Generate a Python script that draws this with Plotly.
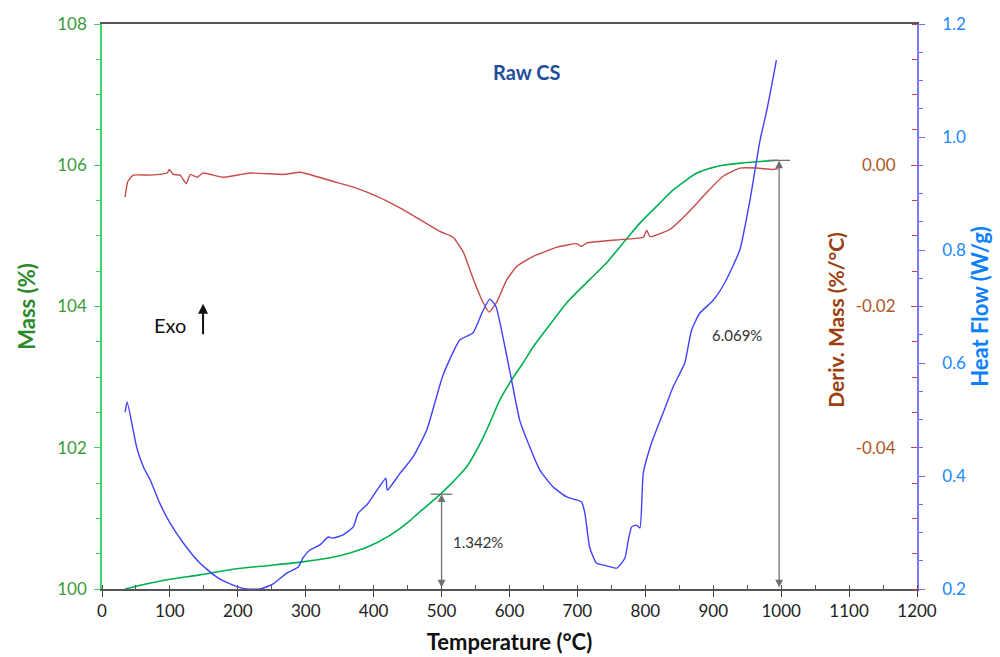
import plotly.graph_objects as go

# ---------------- data ----------------
temp_mass = [34, 60, 96, 144, 193, 243, 292, 340, 365, 390, 424, 450, 463, 475, 498, 512,
             525, 537, 559, 570, 586, 603, 620, 635, 660, 684, 700, 718, 743, 770, 792,
             820, 841, 876, 900, 914, 940, 964, 995]
mass = [100.0, 100.06, 100.13, 100.2, 100.28, 100.33, 100.38, 100.45, 100.51, 100.59, 100.76,
        100.94, 101.05, 101.15, 101.34, 101.47, 101.6, 101.73, 102.1, 102.33, 102.68, 102.96,
        103.2, 103.43, 103.75, 104.05, 104.21, 104.38, 104.62, 104.93, 105.18, 105.45, 105.65,
        105.89, 105.97, 106.0, 106.03, 106.05, 106.07]

temp_deriv = [34, 38, 46, 71, 96, 99, 105, 115, 124, 130, 140, 149, 178, 218, 267, 292, 316,
              341, 370, 405, 434, 468, 498, 517, 532, 547, 561, 570, 581, 596, 611, 635, 670,
              699, 706, 714, 767, 797, 802, 807, 836, 861, 891, 914, 939, 964, 988, 995]
deriv = [-0.0045, -0.0023, -0.0014, -0.0014, -0.0011, -0.0006, -0.0013, -0.0014, -0.0026,
         -0.0013, -0.0017, -0.0011, -0.0017, -0.0011, -0.0013, -0.0010, -0.0016, -0.0023,
         -0.0031, -0.0044, -0.0058, -0.0077, -0.0094, -0.0102, -0.0123, -0.0162, -0.0194,
         -0.0208, -0.0194, -0.0162, -0.0143, -0.0129, -0.0116, -0.0111, -0.0115, -0.0110,
         -0.0105, -0.0102, -0.0092, -0.0101, -0.0091, -0.0069, -0.0038, -0.0016, -0.0004,
         -0.0004, -0.0006, -0.0005]

temp_hf = [34, 37, 51, 61, 71, 85, 100, 120, 144, 169, 193, 213, 233, 252, 272, 289, 296, 306,
           321, 333, 340, 355, 370, 377, 390, 405, 418, 420, 439, 458, 478, 502, 527, 546, 560,
           571, 580, 588, 603, 615, 630, 645, 664, 684, 706, 711, 718, 728, 743, 758, 770, 775,
           780, 787, 792, 797, 809, 826, 841, 858, 868, 880, 900, 917, 939, 954, 969, 979, 993]
heat_flow = [0.513, 0.531, 0.451, 0.416, 0.393, 0.352, 0.317, 0.281, 0.246, 0.221, 0.207, 0.200,
             0.200, 0.209, 0.228, 0.239, 0.255, 0.269, 0.278, 0.292, 0.290, 0.296, 0.310, 0.334,
             0.349, 0.375, 0.396, 0.375, 0.405, 0.434, 0.481, 0.578, 0.641, 0.653, 0.690, 0.713,
             0.700, 0.660, 0.570, 0.499, 0.451, 0.410, 0.381, 0.363, 0.354, 0.334, 0.274, 0.246,
             0.241, 0.237, 0.255, 0.287, 0.310, 0.313, 0.308, 0.405, 0.458, 0.511, 0.558, 0.600,
             0.658, 0.688, 0.711, 0.742, 0.800, 0.888, 0.995, 1.048, 1.136]

x_ticks = [0, 100, 200, 300, 400, 500, 600, 700, 800, 900, 1000, 1100, 1200]
mass_ticks = [100, 102, 104, 106, 108]
deriv_ticks = [-0.04, -0.02, 0.00]
deriv_ticktext = ["-0.04", "-0.02", "0.00"]
hf_ticks = [0.2, 0.4, 0.6, 0.8, 1.0, 1.2]

step_temps = [500, 997]
step_values = [1.342, 6.069]
step_labels = ["1.342%", "6.069%"]

# ---------------- styling ----------------
FONT = "Lato, 'Open Sans', sans-serif"
GREEN_LINE = "#00b050"
RED_LINE = "#c84a4a"
BLUE_LINE = "#4040ff"
MASS_TXT = "#3a9a3a"
DERIV_TXT = "#b0561e"
HF_TXT = "#1a88ff"

fig = go.Figure()
fig.add_trace(go.Scatter(x=temp_mass, y=mass, mode="lines",
                         line=dict(color=GREEN_LINE, width=1.6, shape="spline", smoothing=0.6),
                         yaxis="y", name="Mass"))
fig.add_trace(go.Scatter(x=temp_deriv, y=deriv, mode="lines",
                         line=dict(color=RED_LINE, width=1.4, shape="spline", smoothing=0.4),
                         yaxis="y2", name="Deriv. Mass"))
fig.add_trace(go.Scatter(x=temp_hf, y=heat_flow, mode="lines",
                         line=dict(color=BLUE_LINE, width=1.4, shape="spline", smoothing=0.5),
                         yaxis="y3", name="Heat Flow"))

fig.update_layout(
    template="none",
    width=1000, height=657,
    margin=dict(l=102, r=83, t=24, b=68),
    plot_bgcolor="white", paper_bgcolor="white",
    showlegend=False,
    font=dict(family=FONT),
    xaxis=dict(range=[0, 1200], tickvals=x_ticks, ticks="outside", ticklen=6, tickcolor="#444",
               showline=True, linecolor="#555", linewidth=1.5, mirror=True,
               showgrid=False, zeroline=False, automargin=False, ticklabeloverflow="allow",
               minor=dict(dtick=50, tick0=0, ticks="inside", ticklen=4, tickcolor="#555"),
               tickfont=dict(size=17, color="#222"),
               title=dict(text="<b>Temperature (°C)</b>", font=dict(size=22, color="#111"), standoff=14)),
    yaxis=dict(range=[100, 108], tickvals=mass_ticks, ticks="outside", ticklen=6, tickcolor="#3fcf6a",
               showline=True, linecolor="#3fcf6a", linewidth=1.5,
               showgrid=False, zeroline=False, automargin=False,
               minor=dict(dtick=0.5, tick0=100, ticks="outside", ticklen=4, tickcolor="#3fcf6a"),
               tickfont=dict(size=17, color=MASS_TXT), ticklabelstandoff=4,
               title=dict(text="<b>Mass (%)</b>", font=dict(size=22, color="#2a8a2a"), standoff=16)),
    # derivative axis: drawn on the right edge of the plot, labels pointing into the plot
    yaxis2=dict(overlaying="y", side="left", anchor="free", position=1.0, range=[-0.06, 0.02],
                tickvals=deriv_ticks, ticktext=deriv_ticktext, ticks="outside", ticklen=6,
                tickcolor="#d04040", ticklabelstandoff=12,
                showline=False, showgrid=False, zeroline=False, automargin=False,
                minor=dict(dtick=0.005, tick0=0, ticks="outside", ticklen=5, tickcolor="#d04040"),
                tickfont=dict(size=17, color=DERIV_TXT)),
    yaxis3=dict(overlaying="y", side="right", anchor="x", range=[0.2, 1.2],
                tickvals=hf_ticks, tickformat=".1f", ticks="outside", ticklen=6, tickcolor="#6a6aff",
                showline=True, linecolor="#7a7aff", linewidth=1.5,
                showgrid=False, zeroline=False, automargin=False, ticklabelstandoff=14,
                minor=dict(dtick=0.05, tick0=0.2, ticks="outside", ticklen=4, tickcolor="#6a6aff"),
                tickfont=dict(size=17, color=HF_TXT),
                title=dict(text="<b>Heat Flow (W/g)</b>", font=dict(size=22, color="#0a80ff"), standoff=4)),
)

annotations = []
shapes = []
label_shift = [(36, 0), (-42, 40)]
for t, v, lab, (dx, dy) in zip(step_temps, step_values, step_labels, label_shift):
    annotations.append(dict(x=t, y=100 + v, ax=t, ay=100, xref="x", yref="y", axref="x", ayref="y",
                            text="", showarrow=True, arrowside="end+start", arrowhead=2,
                            arrowsize=1.2, arrowwidth=1.3, arrowcolor="#707070"))
    shapes.append(dict(type="line", xref="x", yref="y", x0=t - 16, x1=t + 16, y0=100 + v, y1=100 + v,
                       line=dict(color="#707070", width=1.3)))
    annotations.append(dict(x=t, y=100 + v / 2, xref="x", yref="y", text=lab, showarrow=False,
                            xanchor="center", yanchor="middle",
                            xshift=dx, yshift=dy, font=dict(size=15, color="#333"),
                            bgcolor="white"))

annotations.append(dict(x=0.521, y=0.915, xref="paper", yref="paper", text="<b>Raw CS</b>",
                        xanchor="center", yanchor="middle",
                        showarrow=False, font=dict(size=20, color="#1f4e99")))
annotations.append(dict(x=0.899, y=0.476, xref="paper", yref="paper", text="<b>Deriv. Mass (%/°C)</b>",
                        xanchor="center", yanchor="middle",
                        textangle=-90, showarrow=False, font=dict(size=21, color="#9c3f0e")))
annotations.append(dict(x=0.0834, y=0.467, xref="paper", yref="paper", text="Exo",
                        xanchor="center", yanchor="middle",
                        showarrow=False, font=dict(size=20, color="#111")))
annotations.append(dict(x=0.124, y=0.505, xref="paper", yref="paper", text="", showarrow=True,
                        ax=0, ay=32, arrowhead=2, arrowsize=1, arrowwidth=2, arrowcolor="#111"))

fig.update_layout(annotations=annotations, shapes=shapes)

fig.write_html("out.html")
